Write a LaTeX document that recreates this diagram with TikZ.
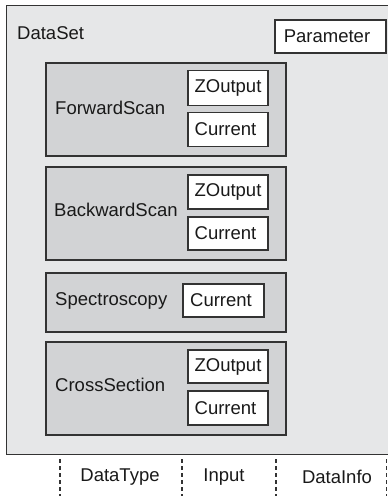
\documentclass[tikz,border=0pt]{standalone}
\usepackage{fontspec}
\setmainfont{Liberation Sans}
\definecolor{outerfill}{HTML}{E6E7E8}
\definecolor{groupfill}{HTML}{D2D3D5}
\definecolor{edgecol}{HTML}{333333}
\begin{document}
\begin{tikzpicture}[x=1pt,y=-1pt,
  every node/.style={font=\fontsize{18.5}{22}\selectfont, text=black!90},
  outerbox/.style={draw=edgecol, fill=outerfill, line width=1.3pt, inner sep=0pt, anchor=north west},
  groupbox/.style={draw=edgecol, fill=groupfill, line width=1.1pt, inner sep=0pt},
  itembox/.style={draw=edgecol, fill=white, line width=1.1pt, inner sep=0pt, minimum width=80pt},
  txt/.style={inner sep=0pt, anchor=west},
  sep/.style={draw=edgecol, line width=1.3pt, dash pattern=on 4pt off 3pt}]
\useasboundingbox (0,0) rectangle (388,499);
\clip (0,0) rectangle (388,499);
\node[outerbox, minimum width=388pt, minimum height=449pt] (dataset) at (6,5) {};
\node[txt] (dslabel) at (17,33) {DataSet};
\node[itembox, minimum width=111pt, minimum height=33pt] (param) at (330.5,36.5) {\hspace*{-7pt}Parameter};
% ForwardScan
\node[groupbox, minimum width=240pt, minimum height=93pt] (fwd) at (166,109.5) {};
\node[txt] (fwdl) at (55,108) {ForwardScan};
\node[itembox, minimum height=35pt] (fwdz) at (228,88) {ZOutput};
\node[itembox, minimum height=34pt] (fwdc) at (228,129.5) {\hspace*{-5pt}Current};
% BackwardScan
\node[groupbox, minimum width=240pt, minimum height=93pt] (bwd) at (166,213.5) {};
\node[txt] (bwdl) at (54,210) {BackwardScan};
\node[itembox, minimum height=34pt] (bwdz) at (228,192) {ZOutput};
\node[itembox, minimum height=33pt] (bwdc) at (228,233.5) {\hspace*{-5pt}Current};
% Spectroscopy
\node[groupbox, minimum width=240pt, minimum height=59pt] (spec) at (166,302.5) {};
\node[txt] (specl) at (55,301) {Spectroscopy};
\node[itembox, minimum width=81pt, minimum height=33pt] (specc) at (223.5,300.5) {\hspace*{-5pt}Current};
% CrossSection
\node[groupbox, minimum width=240pt, minimum height=93pt] (cross) at (166,388.5) {};
\node[txt] (crossl) at (55,385) {CrossSection};
\node[itembox, minimum height=33pt] (crossz) at (228,366.5) {ZOutput};
\node[itembox, minimum height=34pt] (crossc) at (228,408) {\hspace*{-5pt}Current};
% bottom separators and labels
\coordinate (s1t) at (60,459); \coordinate (s1b) at (60,496);
\coordinate (s2t) at (182,459); \coordinate (s2b) at (182,496);
\coordinate (s3t) at (276,459); \coordinate (s3b) at (276,496);
\coordinate (s4t) at (386.5,459); \coordinate (s4b) at (386.5,496);
\draw[sep] (s1t) -- (s1b);
\draw[sep] (s2t) -- (s2b);
\draw[sep] (s3t) -- (s3b);
\draw[sep] (s4t) -- (s4b);
\node[inner sep=0pt] (dtype) at (120,477) {DataType};
\node[inner sep=0pt] (input) at (224,477) {Input};
\node[inner sep=0pt] (dinfo) at (337,477) {DataInfo};
\end{tikzpicture}
\end{document}
